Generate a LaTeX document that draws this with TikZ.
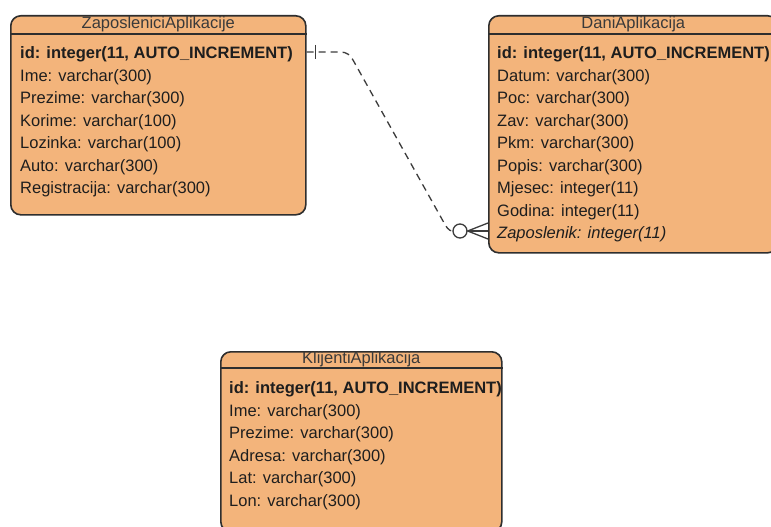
\documentclass[tikz,border=0pt]{standalone}
\usepackage{fontspec}
\setsansfont{Liberation Sans}
\usetikzlibrary{positioning,calc}
\definecolor{cFill}{HTML}{F3B47B}
\definecolor{cEdge}{HTML}{2E2E2E}
\definecolor{cInk}{HTML}{1E1E1E}
\definecolor{cTitle}{HTML}{3A3A3A}
\definecolor{cLink}{HTML}{3C3C3C}

\begin{document}
\begin{tikzpicture}[
  x=1pt, y=-1pt,
  font=\sffamily\fontsize{16.5}{22.5}\selectfont,
  entity/.style={rectangle, rounded corners=10pt, draw=cEdge, line width=1.6pt, fill=cFill,
                 anchor=north west, inner sep=0pt},
  ttl/.style={anchor=center, text=cTitle, inner sep=0pt},
  rows/.style={anchor=base west, align=left, text=cInk, inner sep=0pt},
  hline/.style={draw=cEdge, line width=1.2pt},
  link/.style={draw=cLink, line width=1.3pt, dash pattern=on 7pt off 5pt},
  notation/.style={draw=cLink, line width=1.3pt},
]

% ---------- Canvas ----------
\fill[white] (0,0) rectangle (771,527);
\useasboundingbox (0,0) rectangle (771,527);
\clip (0,0) rectangle (771,527);

% ---------- ZaposleniciAplikacije ----------
% (rows are anchored on the baseline of their last line)
\node[entity, minimum width=295pt, minimum height=199pt] (zap) at (10,15) {};
\draw[hline] (zap.west |- 0,34) -- (zap.east |- 0,34);
\node[ttl] (zapTitle) at (zap.north |- 0,24) {ZaposleniciAplikacije};
\node[rows] (zapRows) at (20,193.5) {%
  \textbf{id: integer(11, AUTO\_INCREMENT)}\\
  Ime: varchar(300)\\
  Prezime: varchar(300)\\
  Korime: varchar(100)\\
  Lozinka: varchar(100)\\
  Auto: varchar(300)\\
  Registracija: varchar(300)};

% ---------- DaniAplikacija ----------
\node[entity, minimum width=289pt, minimum height=237pt] (dani) at (488,15) {};
\draw[hline] (dani.west |- 0,34) -- (dani.east |- 0,34);
\node[ttl] (daniTitle) at (dani.north |- 0,24) {DaniAplikacija};
\node[rows] (daniRows) at (497,238.5) {%
  \textbf{id: integer(11, AUTO\_INCREMENT)}\\
  Datum: varchar(300)\\
  Poc: varchar(300)\\
  Zav: varchar(300)\\
  Pkm: varchar(300)\\
  Popis: varchar(300)\\
  Mjesec: integer(11)\\
  Godina: integer(11)\\
  \textit{Zaposlenik: integer(11)}};

% ---------- KlijentiAplikacija ----------
\node[entity, minimum width=281pt, minimum height=180pt] (klij) at (220,351) {};
\draw[hline] (klij.west |- 0,368) -- (klij.east |- 0,368);
\node[ttl] (klijTitle) at (klij.north |- 0,359) {KlijentiAplikacija};
\node[rows] (klijRows) at (229,506) {%
  \textbf{id: integer(11, AUTO\_INCREMENT)}\\
  Ime: varchar(300)\\
  Prezime: varchar(300)\\
  Adresa: varchar(300)\\
  Lat: varchar(300)\\
  Lon: varchar(300)};

% ---------- Relationship ----------
\coordinate (fkZ) at (zap.east |- 0,52);
\coordinate (fkD) at (dani.west |- 0,231);
\node[circle, draw=cLink, line width=1.3pt, fill=white, minimum size=14pt, inner sep=0pt]
  (crowO) at ($(fkD)+(-28,0)$) {};
\draw[link] (fkZ) -- (340,52) .. controls (347,52) and (350,55) .. (353,60)
  -- (443,221) .. controls (446,227) and (449,231) .. (crowO.west);
\draw[notation] ($(fkZ)+(9,-7)$) -- ($(fkZ)+(9,7)$);
\draw[notation] ($(fkD)+(0,-8)$) -- (crowO.east) -- ($(fkD)+(0,8)$);
\draw[notation] (crowO.east) -- (fkD);

\end{tikzpicture}
\end{document}
